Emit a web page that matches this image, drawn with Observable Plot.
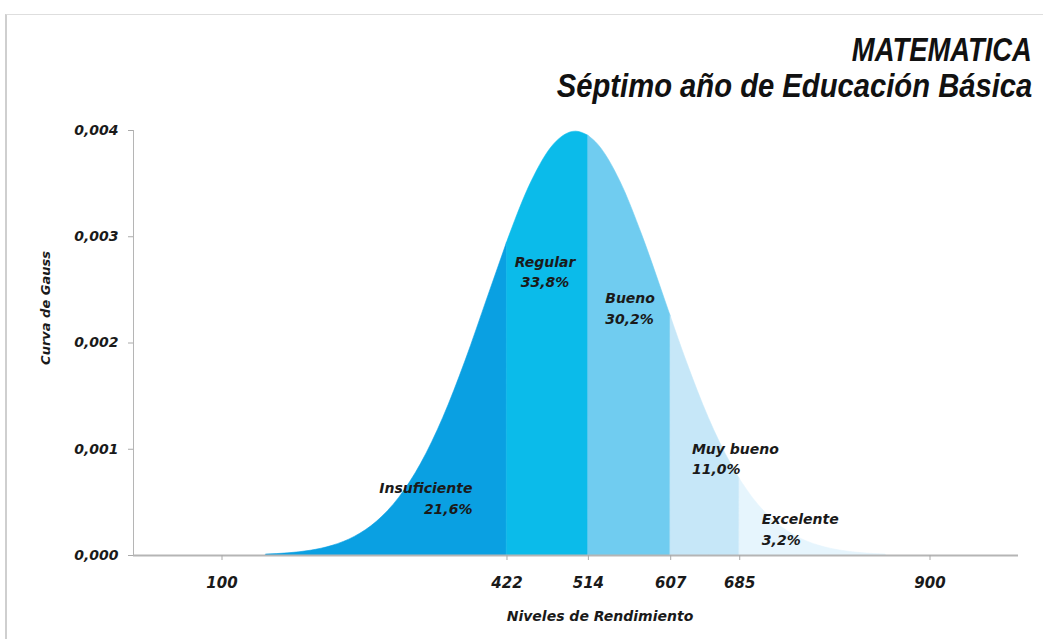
<!DOCTYPE html>
<html>
<head>
<meta charset="utf-8">
<script src="https://cdn.jsdelivr.net/npm/d3@7"></script>
<script src="https://cdn.jsdelivr.net/npm/@observablehq/plot@0.6"></script>
<style>
  html, body { margin: 0; padding: 0; background: #fff; }
  #wrap { position: relative; width: 1043px; height: 639px; overflow: hidden; background: #fff; }
  #frame { position: absolute; left: 5px; top: 14px; right: -2px; bottom: -2px;
           border-left: 2px solid #cfcfcf; border-top: 1px solid #dedede; }
  .t { position: absolute; right: 11px; white-space: nowrap; text-align: right;
       font-family: "Liberation Sans", Arial, sans-serif; font-weight: bold; font-style: italic;
       color: #111; font-size: 33px; line-height: 37px; transform-origin: right center; }
  #t1 { top: 31px; transform: scaleX(0.83); }
  #t2 { top: 67px; transform: scaleX(0.885); }
  #chart { position: absolute; left: 0; top: 105px; }
</style>
</head>
<body>
<div id="wrap">
  <div id="frame"></div>
  <div class="t" id="t1">MATEMATICA</div>
  <div class="t" id="t2">Séptimo año de Educación Básica</div>
  <div id="chart"></div>
</div>
<script>
// Curve (Nivel de rendimiento -> densidad)
const levels  = [150, 175, 200, 225, 250, 275, 300, 325, 350, 375, 400, 422, 425, 450, 475, 500, 514,
                 525, 550, 575, 600, 607, 625, 650, 675, 685, 700, 725, 750, 775, 800, 825, 850];
const density = [0.0000087, 0.0000203, 0.0000443, 0.0000909, 0.000175, 0.000317, 0.000540, 0.000863,
                 0.001295, 0.001826, 0.002420, 0.002943, 0.003011, 0.003521, 0.003867, 0.003989, 0.003950,
                 0.003867, 0.003521, 0.003011, 0.002420, 0.002251, 0.001826, 0.001295, 0.000863, 0.000721,
                 0.000540, 0.000317, 0.000175, 0.0000909, 0.0000443, 0.0000203, 0.0000087];

// Performance bands
const cuts     = [422, 514, 607, 685];
const segments = ["Insuficiente", "Regular", "Bueno", "Muy bueno", "Excelente"];
const shares   = ["21,6%", "33,8%", "30,2%", "11,0%", "3,2%"];
const colors   = ["#0aa0e2", "#0bbbea", "#70ccf0", "#c6e7f8", "#e6f5fd"];

// Annotation anchors (data units) and alignment
const annotX      = [383, 465, 533, 631, 710];
const annotY      = [0.00055, 0.00268, 0.00234, 0.00092, 0.00026];
const annotAnchor = ["end", "middle", "start", "start", "start"];

// Axes
const xTicks = [100, 422, 514, 607, 685, 900];
const yTicks = [0, 0.001, 0.002, 0.003, 0.004];

// Build area rows per band (boundary points shared by both neighbours)
const rows = [];
segments.forEach((s, i) => {
  const lo = i === 0 ? -Infinity : cuts[i - 1];
  const hi = i === segments.length - 1 ? Infinity : cuts[i];
  levels.forEach((x, j) => {
    if (x >= lo && x <= hi) rows.push({segment: s, x, y: density[j]});
  });
});
const annots = segments.map((s, i) => ({text: s + "\n" + shares[i], x: annotX[i], y: annotY[i], anchor: annotAnchor[i]}));

const labelFont = {fontFamily: "DejaVu Sans, sans-serif", fontWeight: "bold", fontStyle: "italic"};
const annotMark = anchor => Plot.text(annots.filter(d => d.anchor === anchor), {
  x: "x", y: "y", text: "text", textAnchor: anchor, lineHeight: 1.45, fontSize: 14, fill: "#1a1a1a", ...labelFont});

const chart = Plot.plot({
  width: 1043,
  height: 534,
  marginTop: 25,
  marginBottom: 84,
  marginLeft: 133,
  marginRight: 25,
  x: {domain: [0, 1000]},
  y: {domain: [0, 0.004]},
  color: {domain: segments, range: colors},
  marks: [
    Plot.areaY(rows, {x: "x", y1: 0, y2: "y", fill: "segment", stroke: "segment", strokeWidth: 0.6, curve: "monotone-x"}),
    Plot.ruleY([0], {stroke: "#b5b5b5", strokeWidth: 2}),
    Plot.ruleX([0], {stroke: "#b5b5b5", strokeWidth: 1}),
    Plot.axisX(xTicks, {tickFormat: d => String(d), tickSize: 5, tickPadding: 17, stroke: "#aaa", fill: "#1a1a1a",
      fontSize: 15, label: null, ...labelFont}),
    Plot.axisY(yTicks, {tickFormat: d => d.toFixed(3).replace(".", ","), tickSize: 5, tickPadding: 10, stroke: "#aaa",
      fill: "#1a1a1a", fontSize: 14, label: null, ...labelFont}),
    Plot.text(["Niveles de Rendimiento"], {frameAnchor: "bottom", dx: 24, dy: 65, fontSize: 14, fill: "#1a1a1a", ...labelFont}),
    Plot.text(["Curva de Gauss"], {frameAnchor: "left", textAnchor: "middle", rotate: -90, dx: -88, dy: -35,
      fontSize: 13, fill: "#1a1a1a", ...labelFont}),
    annotMark("end"),
    annotMark("middle"),
    annotMark("start")
  ]
});
document.getElementById("chart").appendChild(chart);
</script>
</body>
</html>
